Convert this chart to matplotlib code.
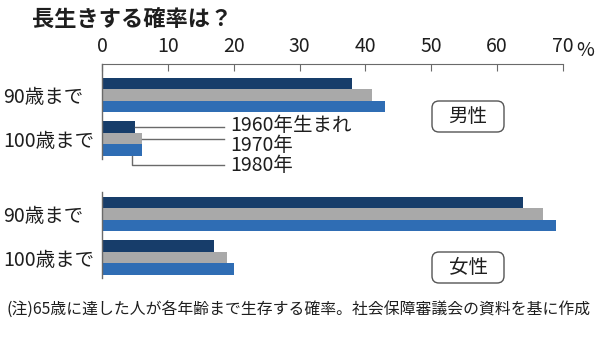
import matplotlib
matplotlib.use("Agg")
import matplotlib.pyplot as plt
from matplotlib.patches import FancyBboxPatch

plt.rcParams["font.family"] = ["Noto Sans CJK JP", "DejaVu Sans"]

# data (percent surviving from 65)
ages = ["90歳まで", "100歳まで"]
cohorts = ["1960年生まれ", "1970年", "1980年"]
male_1960 = [38, 5]
male_1970 = [41, 6]
male_1980 = [43, 6]
female_1960 = [64, 17]
female_1970 = [67, 19]
female_1980 = [69, 20]
xticks = [0, 10, 20, 30, 40, 50, 60, 70]

COLORS = ["#173d6a", "#a9a9a9", "#2f6db4"]
TEXT = "#1e1e1e"
LINE = "#6a6a6a"
BAR_H = 0.265

fig = plt.figure(figsize=(6.0, 3.37), dpi=100)
ax_m = fig.add_axes([102 / 600, 1 - 159 / 337, 461 / 600, 95 / 337])
ax_f = fig.add_axes([102 / 600, 1 - 278 / 337, 461 / 600, 86 / 337], sharex=ax_m)


def draw_group(ax, series):
    for k, vals in enumerate(series):
        pos = [i + (k - 1) * BAR_H for i in range(len(vals))]
        ax.barh(pos, vals, height=BAR_H, color=COLORS[k], edgecolor="none")
    ax.set_yticks(range(len(ages)))
    ax.set_yticklabels(ages, fontsize=14, color=TEXT, ha="left")
    ax.tick_params(axis="y", length=0, pad=71)
    for s in ["right", "bottom", "top"]:
        ax.spines[s].set_visible(False)
    ax.spines["left"].set_color(LINE)
    ax.spines["left"].set_linewidth(1)


draw_group(ax_m, [male_1960, male_1970, male_1980])
draw_group(ax_f, [female_1960, female_1970, female_1980])
ax_m.set_ylim(1.465, -0.709)
ax_f.set_ylim(1.465, -0.503)

ax_m.set_xlim(0, 70)
ax_m.xaxis.tick_top()
ax_m.spines["top"].set_visible(True)
ax_m.spines["top"].set_color(LINE)
ax_m.set_xticks(xticks)
ax_m.set_xticklabels([str(t) for t in xticks], fontsize=14, color=TEXT)
ax_m.tick_params(axis="x", direction="in", length=5, color=LINE, pad=5)
ax_f.tick_params(axis="x", bottom=False, labelbottom=False, top=False, labeltop=False)
fig.text(576 / 600, 1 - 50 / 337, "%", fontsize=14, color=TEXT, va="center")

# leader lines for the cohort labels on the male 100-year group
ends = [male_1960[1], male_1970[1], male_1980[1]]
text_y = [0.70, 1.16, 1.62]
line_x = 18.6
ax_m.plot([ends[0], line_x], [1 - BAR_H, 1 - BAR_H], color=LINE, lw=1, clip_on=False)
ax_m.plot([ends[1], line_x], [1.0, 1.0], color=LINE, lw=1, clip_on=False)
ax_m.plot([4.5, 4.5, line_x], [1 + 1.5 * BAR_H, 1.60, 1.60], color=LINE, lw=1, clip_on=False)
for label, ty in zip(cohorts, text_y):
    ax_m.text(line_x + 0.8, ty, label, fontsize=14, color=TEXT, va="center", clip_on=False)

# sex labels in rounded boxes
for label, y0 in [("男性", 2.05), ("女性", 0.54)]:
    box = FancyBboxPatch((4.32, y0), 0.72, 0.31, boxstyle="round,pad=0,rounding_size=0.07",
                         transform=fig.dpi_scale_trans, facecolor="white",
                         edgecolor="#555555", linewidth=1)
    fig.patches.append(box)
    fig.text(4.68, y0 + 0.155, label, transform=fig.dpi_scale_trans,
             fontsize=14, color=TEXT, ha="center", va="center")

fig.text(32 / 600, 1 - 19 / 337, "長生きする確率は？", fontsize=16, fontweight="bold",
         color=TEXT, va="center")
fig.text(6 / 600, 1 - 309 / 337,
         "(注)65歳に達した人が各年齢まで生存する確率。社会保障審議会の資料を基に作成",
         fontsize=11.4, color=TEXT, va="center")

fig.savefig("out.png", dpi=100, facecolor="white")
plt.close(fig)
